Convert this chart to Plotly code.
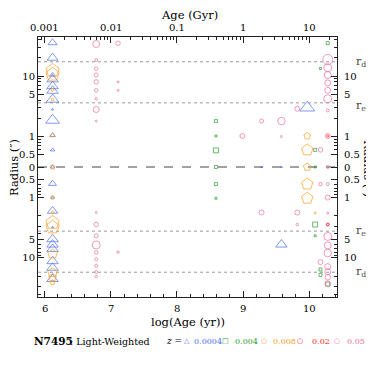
import numpy as np
import plotly.graph_objects as go

# ---------------- data (log age [yr], radius [arcsec, + = upper side, - = lower side], light fraction [%]) -------------
z0004_logage = [6.12]*22 + [9.28, 9.58, 9.58, 9.97]
z0004_radius = [35.6, 20, 10.4, 8.8, 6.8, 5.7, 4.1, 2.8, 1.86, 1.05, 0.6, 0,
                -0.59, -1.0, -1.67, -3.1, -4.9, -6.0, -7.1, -11.3, -14.5, -22.3,
                0, 0, -6.0, 2.99]
z0004_weight = [12, 15, 6, 16, 16, 16, 18, 0, 20, 6, 4, 4,
                10, 2, 14, 0, 16, 16, 16, 16, 16, 16,
                0, 0, 16, 22]

z004_logage = [8.59]*6 + [10.28, 10.17, 10.09, 10.09, 10.09, 10.09, 10.17, 10.17, 10.28]
z004_radius = [1.8, 1.02, 0.59, 0, -0.6, -1.03, 35, 13.3, 0.6, 0, -2.8, -4.3, -15.5, -19, -27]
z004_weight = [2, 0, 6, 2, 2, 0, 2, 0, 2, 0, 6, 0, 2, 2, 4]

z008_logage = [6.12]*14 + [9.97]*5 + [10.09]
z008_radius = [12.4, 10.6, 5.9, 4.1, 1.05, 0, -1.0, -1.77, -2.6, -3.1, -8.6, -17.5, -21, -25.5,
               1.02, 0.6, 0, -0.6, -1.03, -1.8]
z008_weight = [24, 24, 2, 2, 4, 6, 4, 2, 24, 24, 16, 16, 12, 6,
               10, 20, 12, 20, 20, 0]

z02_logage = [10.28, 10.28]
z02_radius = [1.02, -2.8]
z02_weight = [0, 2]

z05_logage = ([6.78]*18 + [7.11]*4 + [8.99, 9.28, 9.28, 9.58, 9.58, 9.82, 9.82, 9.82,
              10.17, 10.17, 10.17, 10.28] + [10.28]*19)
z05_radius = ([33.8, 18.3, 13.2, 10.4, 8.0, 5.8, 4.2, 2.8, 1.8, -1.77, -2.8, -4.3, -6.1, -8.1, -10.5, -13.5, -17.1, -20.3]
              + [34.8, 8.0, 5.8, -8.0]
              + [1.02, 1.8, -1.77, 1.8, 1.0, 2.87, -1.77, -2.8]
              + [0.6, -0.6, -11.7, -0.6]
              + [18.8, 13.7, 10.4, 7.7, 5.8, 4.2, 2.7, 1.02, 0, -1.0, -1.8, -4.4, -6.2, -8.3,
                 -13.9, -16.9, -20.8, -26.7, -2.8])
z05_weight = ([10, 2, 3, 4, 5, 3, 1, 8, 0, 0, 5, 4, 12, 3, 2, 2, 2, 1]
              + [5, 0, 0, 1]
              + [6, 4, 6, 11, 0, 6, 6, 1]
              + [5, 3, 6, 2]
              + [16, 12, 10, 8, 8, 12, 2, 6, 2, 6, 0, 12, 10, 11, 8, 8, 7, 8, 1])

R_EFF = 3.6     # effective radius (arcsec)
R_DISK = 17.2   # disk scale radius (arcsec)

minor_r = [0.6, 0.7, 0.8, 0.9, 2, 3, 4, 6, 7, 8, 9, 20, 30, 40]
ytick_r = [-10, -5, -1, -0.5, 0, 0.5, 1, 5, 10]
ytick_txt = ["10", "5", "1", "0.5", "0", "0.5", "1", "5", "10"]
logage_ticks = [6, 7, 8, 9, 10]
age_gyr_ticks = [0.001, 0.01, 0.1, 1, 10]

R0 = 0.313  # radius that maps onto the centre line


def u(r):
    r = np.asarray(r, dtype=float)
    out = np.zeros_like(r)
    nz = r != 0
    out[nz] = np.sign(r[nz]) * np.log10(np.abs(r[nz]) / R0)
    return out


def size_of(w):
    return 2 + 0.5 * np.asarray(w, dtype=float)


FONT = "DejaVu Serif"
BLUE = "#4a6ff0"
GREEN = "#2f9a3a"
ORANGE = "#ff9a1e"
RED = "#ff1a1a"
PINK = "#ea6f9e"

fig = go.Figure()
series = [
    (z0004_logage, z0004_radius, z0004_weight, BLUE, "triangle-up-open"),
    (z004_logage, z004_radius, z004_weight, GREEN, "square-open"),
    (z008_logage, z008_radius, z008_weight, ORANGE, "pentagon-open"),
    (z05_logage, z05_radius, z05_weight, PINK, "circle-open"),
    (z02_logage, z02_radius, z02_weight, RED, "circle-open"),
]
for xa, ra, wa, col, sym in series:
    fig.add_trace(go.Scatter(
        x=xa, y=u(ra), mode="markers",
        marker=dict(symbol=sym, size=size_of(wa), color=col, line=dict(color=col, width=1)),
        showlegend=False, hoverinfo="skip"))

fig.add_trace(go.Scatter(x=[8], y=[0], xaxis="x2", yaxis="y2", mode="markers",
                         marker=dict(opacity=0), showlegend=False, hoverinfo="skip"))

XR = [5.9, 10.42]
YR = [-2.15, 2.15]
yminor = list(u([-m for m in minor_r])) + list(u(minor_r))
top_tickvals = list(np.log10(np.array(age_gyr_ticks) * 1e9))

TICKFONT = dict(family=FONT, size=10, color="black")
axis_common = dict(showgrid=False, zeroline=False, showline=True, linecolor="#222", linewidth=1,
                   ticks="inside", tickcolor="#222", automargin=False, tickfont=TICKFONT)
minor_common = dict(ticklen=3, ticks="inside", tickcolor="#222")

# figure sits 8px inside the page: figure 366x366, plot area 299x260
W = 366
ML, MT, PW, PH = 30, 29, 299, 260

fig.update_layout(
    width=W, height=W,
    margin=dict(l=ML, r=W - ML - PW, t=MT, b=W - MT - PH, autoexpand=False),
    paper_bgcolor="white", plot_bgcolor="white",
    font=dict(family=FONT, size=10, color="black"),
    xaxis=dict(range=XR, tickmode="array", tickvals=logage_ticks, ticklen=6, showticklabels=False,
               minor=dict(tickmode="linear", tick0=6, dtick=0.2, **minor_common),
               **axis_common),
    xaxis2=dict(range=XR, overlaying="x", side="top", tickmode="array",
                tickvals=top_tickvals, ticklen=6, showticklabels=False,
                minor=dict(tickmode="array",
                           tickvals=[np.log10(k * 10.0 ** n) for n in range(5, 11) for k in range(2, 10)
                                     if XR[0] < np.log10(k * 10.0 ** n) < XR[1]],
                           **minor_common),
                **axis_common),
    yaxis=dict(range=YR, tickmode="array", tickvals=list(u(ytick_r)), ticktext=ytick_txt, ticklen=6,
               minor=dict(tickmode="array", tickvals=yminor, **minor_common),
               **axis_common),
    yaxis2=dict(range=YR, overlaying="y", side="right", tickmode="array", tickvals=list(u(ytick_r)),
                ticktext=ytick_txt, ticklen=6, ticklabelstandoff=4,
                minor=dict(tickmode="array", tickvals=yminor, **minor_common),
                **axis_common),
)

fig.add_shape(type="line", xref="x", yref="y", x0=XR[0], x1=XR[1], y0=0, y1=0,
              line=dict(color="#444", width=1, dash="dash"), layer="below")
for rr in [R_EFF, R_DISK, -R_EFF, -R_DISK]:
    yy = float(u([rr])[0])
    fig.add_shape(type="line", xref="x", yref="y", x0=XR[0], x1=XR[1], y0=yy, y1=yy,
                  line=dict(color="#999", width=1, dash="dot"), layer="below")


def px(xp, yp):
    """reference-page pixel -> paper coords"""
    return (xp - 8 - ML) / PW, 1 - (yp - 8 - MT) / PH


# x tick labels (bottom: log age; top: age in Gyr)
for tv in logage_ticks:
    fig.add_annotation(x=tv, xref="x", y=px(0, 308)[1], yref="paper", text=str(tv), showarrow=False,
                       xanchor="center", yanchor="middle", font=TICKFONT)
for tv, lab in zip(top_tickvals, age_gyr_ticks):
    fig.add_annotation(x=tv, xref="x", y=px(0, 28)[1], yref="paper", text=str(lab), showarrow=False,
                       xanchor="center", yanchor="middle", font=TICKFONT)

for rr, lab, yoff in [(R_EFF, "r<sub>e</sub>", 3), (R_DISK, "r<sub>d</sub>", 0),
                      (-R_EFF, "r<sub>e</sub>", 0), (-R_DISK, "r<sub>d</sub>", 0)]:
    fig.add_annotation(x=px(361, 0)[0], xref="paper", y=float(u([rr])[0]), yref="y", text=lab,
                       showarrow=False, font=dict(family=FONT, size=11, color="#444"),
                       xanchor="center", yanchor="middle", yshift=-yoff)

for (xp, yp, txt, ang) in [(189, 15, "Age (Gyr)", 0), (188, 321.5, "log(Age (yr))", 0),
                           (14, 168, "Radius (″)", -90), (368, 168, "Radius (″)", 90)]:
    xx, yy = px(xp, yp)
    fig.add_annotation(x=xx, y=yy, xref="paper", yref="paper", text=txt, textangle=ang, showarrow=False,
                       xanchor="center", yanchor="middle", font=dict(family=FONT, size=11.5))

items = [
    (31.5, "<b>N7495</b>", "black", 10.5, "left"),
    (68, ": Light-Weighted", "black", 9.5, "left"),
    (164, "<i>z</i> =", "black", 9, "left"),
    (187, "△", BLUE, 7, "center"),
    (192, "0.0004", BLUE, 8, "left"),
    (225.5, "□", GREEN, 7, "center"),
    (233, "0.004", GREEN, 8, "left"),
    (263.5, "○", ORANGE, 7, "center"),
    (270.5, "0.008", ORANGE, 8, "left"),
    (300, "○", RED, 7, "center"),
    (310, "0.02", RED, 8, "left"),
    (336.5, "○", PINK, 7, "center"),
    (345, "0.05", PINK, 8, "left"),
]
for xp, txt, col, fs, anc in items:
    xx, yy = px(xp, 341)
    fig.add_annotation(x=xx, y=yy, xref="paper", yref="paper", text=txt, showarrow=False,
                       xanchor=anc, yanchor="middle", font=dict(family=FONT, size=fs, color=col))

fig.write_html("out.html")
